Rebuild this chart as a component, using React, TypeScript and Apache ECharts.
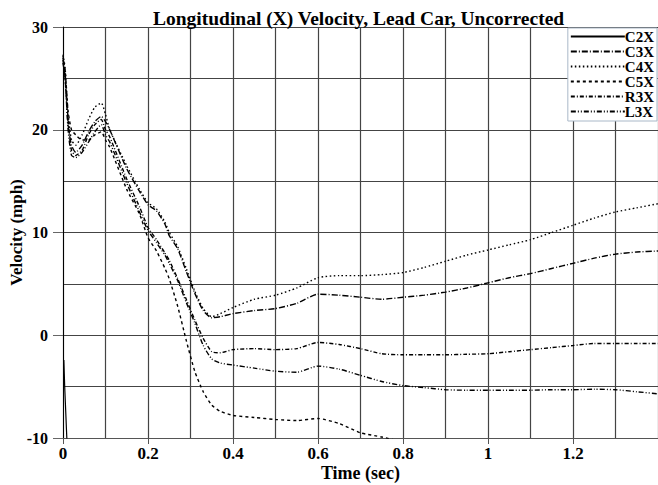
import React, { useEffect, useRef } from "react";
import * as echarts from "echarts";

const times = [0, 0.005, 0.012, 0.02, 0.03, 0.045, 0.06, 0.075, 0.09, 0.1, 0.11, 0.15, 0.18, 0.2, 0.22, 0.24, 0.25, 0.27, 0.29, 0.31, 0.33, 0.35, 0.37, 0.4, 0.45, 0.5, 0.55, 0.6, 0.65, 0.7, 0.75, 0.8, 0.85, 0.9, 0.95, 1.0, 1.05, 1.1, 1.15, 1.2, 1.25, 1.3, 1.35, 1.4];

const c4x = [27.3, 26, 21.5, 19, 18.5, 19.5, 21, 22.2, 22.6, 21.5, 20.0, 16.5, 14.2, 12.9, 12.3, 11.0, 10.0, 8.6, 6.5, 4.3, 2.6, 1.8, 2.1, 2.7, 3.5, 3.9, 4.6, 5.6, 5.8, 5.8, 5.9, 6.1, 6.6, 7.2, 7.8, 8.3, 8.8, 9.3, 10.0, 10.7, 11.4, 12.0, 12.4, 12.8];
const c3x = [26.8, 25, 20.5, 18.5, 17.8, 18.5, 19.8, 20.8, 21.3, 20.8, 20.0, 16.2, 14.0, 12.7, 12.1, 10.8, 9.7, 8.4, 6.2, 4.1, 2.4, 1.7, 1.8, 2.1, 2.4, 2.6, 3.1, 4.0, 3.9, 3.7, 3.5, 3.7, 3.9, 4.2, 4.6, 5.1, 5.6, 6.0, 6.5, 7.0, 7.5, 7.9, 8.1, 8.2];
const r3x = [27.0, 25.5, 21, 18.0, 17.5, 18, 19.5, 20.5, 21.0, 20.0, 19.3, 15.2, 12.5, 10.5, 9.3, 8.0, 7.3, 5.5, 3.5, 1.5, -0.3, -1.6, -1.7, -1.4, -1.3, -1.4, -1.3, -0.7, -0.9, -1.3, -1.8, -1.9, -1.9, -1.9, -1.85, -1.8, -1.6, -1.4, -1.2, -1.0, -0.8, -0.8, -0.8, -0.8];
const l3x = [26.5, 25, 20, 17.5, 17.3, 17.8, 18.8, 19.8, 20.5, 19.5, 18.8, 14.8, 12.0, 10.2, 9.0, 7.8, 7.0, 5.3, 3.2, 1.2, -1.0, -2.3, -2.7, -2.9, -3.2, -3.5, -3.6, -3.0, -3.3, -3.9, -4.5, -4.9, -5.1, -5.3, -5.35, -5.35, -5.35, -5.35, -5.3, -5.3, -5.25, -5.3, -5.5, -5.7];
const c5x = [27.2, 25.8, 21.8, 20.0, 19.5, 19.0, 19.0, 19.5, 19.8, 19.0, 18.3, 14.2, 11.8, 9.5, 8.2, 6.5, 5.5, 2.8, -0.5, -3.5, -5.5, -6.8, -7.4, -7.8, -8.0, -8.2, -8.3, -8.1, -8.6, -9.5, -9.9, -10.4, null, null, null, null, null, null, null, null, null, null, null, null];

const c2xTimes = [0.002, 0.004, 0.007, 0.009, 0.011];
const c2x = [-2.4, -5, -8, -10, -11];

const yTicks = [-10, 0, 10, 20, 30];
const xTicks = [0, 0.2, 0.4, 0.6, 0.8, 1, 1.2];

const FONT = "'Liberation Serif', 'Times New Roman', serif";

function pair(t: number[], v: (number | null)[]) {
  return t.map((x, i) => [x, v[i]]);
}

export default function App() {
  const ref = useRef<HTMLDivElement>(null);
  useEffect(() => {
    if (!ref.current) return;
    const chart = echarts.init(ref.current, null, { renderer: "svg" });
    const mk = (name: string, data: any[], type: any, width = 1.4) => ({
      name,
      type: "line",
      data,
      symbol: "none",
      smooth: 0.2,
      clip: true,
      connectNulls: false,
      lineStyle: { color: "#000", width, type },
      itemStyle: { color: "#000" },
    });
    chart.setOption({
      animation: false,
      backgroundColor: "#fff",
      title: {
        text: "Longitudinal (X) Velocity, Lead Car, Uncorrected",
        left: 148,
        top: 3,
        textStyle: { fontFamily: FONT, fontWeight: "bold", fontSize: 19.5, color: "#000" },
      },
      legend: {
        orient: "vertical",
        right: 1,
        top: 28,
        itemWidth: 54,
        itemHeight: 8,
        itemGap: 0,
        padding: [1, 3, 2, 2],
        backgroundColor: "#fff",
        borderColor: "#a9b8c8",
        borderWidth: 1,
        borderRadius: 0,
        itemStyle: { opacity: 0, borderWidth: 0 },
        textStyle: { fontFamily: FONT, fontWeight: "bold", fontSize: 15, color: "#000", lineHeight: 14, padding: [0, 0, 0, -5] },
        data: ["C2X", "C3X", "C4X", "C5X", "R3X", "L3X"],
      },
      grid: { left: 63, right: 0, top: 27, bottom: 47, containLabel: false, outerBoundsMode: "none" },
      xAxis: {
        type: "value",
        min: 0,
        max: 1.4,
        interval: 0.2,
        name: "Time (sec)",
        nameLocation: "middle",
        nameGap: 26,
        nameMoveOverlap: false,
        nameTextStyle: { fontFamily: FONT, fontWeight: "bold", fontSize: 18, color: "#000" },
        axisLine: { show: true, onZero: false, lineStyle: { color: "#555", width: 1 } },
        axisTick: { show: true, length: 6, lineStyle: { color: "#555" } },
        axisLabel: {
          margin: 7,
          fontFamily: FONT,
          fontWeight: "bold",
          fontSize: 17,
          color: "#000",
          formatter: (v: number) => (xTicks.some((t) => Math.abs(t - v) < 1e-6) ? String(Math.round(v * 10) / 10) : ""),
        },
        splitLine: { show: true, lineStyle: { color: "#444", width: 1.2 } },
        minorTick: { show: false, splitNumber: 2 },
        minorSplitLine: { show: true, lineStyle: { color: "#444", width: 1.2 } },
      },
      yAxis: {
        type: "value",
        min: -10,
        max: 30,
        interval: 10,
        name: "Velocity (mph)",
        nameLocation: "middle",
        nameRotate: 90,
        nameGap: 38,
        nameMoveOverlap: false,
        nameTextStyle: { fontFamily: FONT, fontWeight: "bold", fontSize: 17, color: "#000" },
        axisLine: { show: true, onZero: false, lineStyle: { color: "#000", width: 1 } },
        axisTick: { show: true, length: 10, lineStyle: { color: "#666" } },
        axisLabel: {
          margin: 15,
          fontFamily: FONT,
          fontWeight: "bold",
          fontSize: 16,
          color: "#000",
          formatter: (v: number) => (yTicks.includes(v) ? String(v) : ""),
        },
        splitLine: { show: true, lineStyle: { color: "#444", width: 1.2 } },
        minorTick: { show: false, splitNumber: 2 },
        minorSplitLine: { show: true, lineStyle: { color: "#444", width: 1.2 } },
      },
      series: [
        mk("C2X", pair(c2xTimes, c2x), "solid", 1.2),
        mk("C3X", pair(times, c3x), [6, 2, 1, 2]),
        mk("C4X", pair(times, c4x), [1.5, 2.5]),
        mk("C5X", pair(times, c5x), [3, 3]),
        mk("R3X", pair(times, r3x), [4, 2, 1, 2]),
        mk("L3X", pair(times, l3x), [5, 2, 1, 2, 1, 2]),
      ],
    });
    return () => chart.dispose();
  }, []);
  return <div ref={ref} style={{ width: 658, height: 485, position: "absolute", left: 0, top: 0 }} />;
}
